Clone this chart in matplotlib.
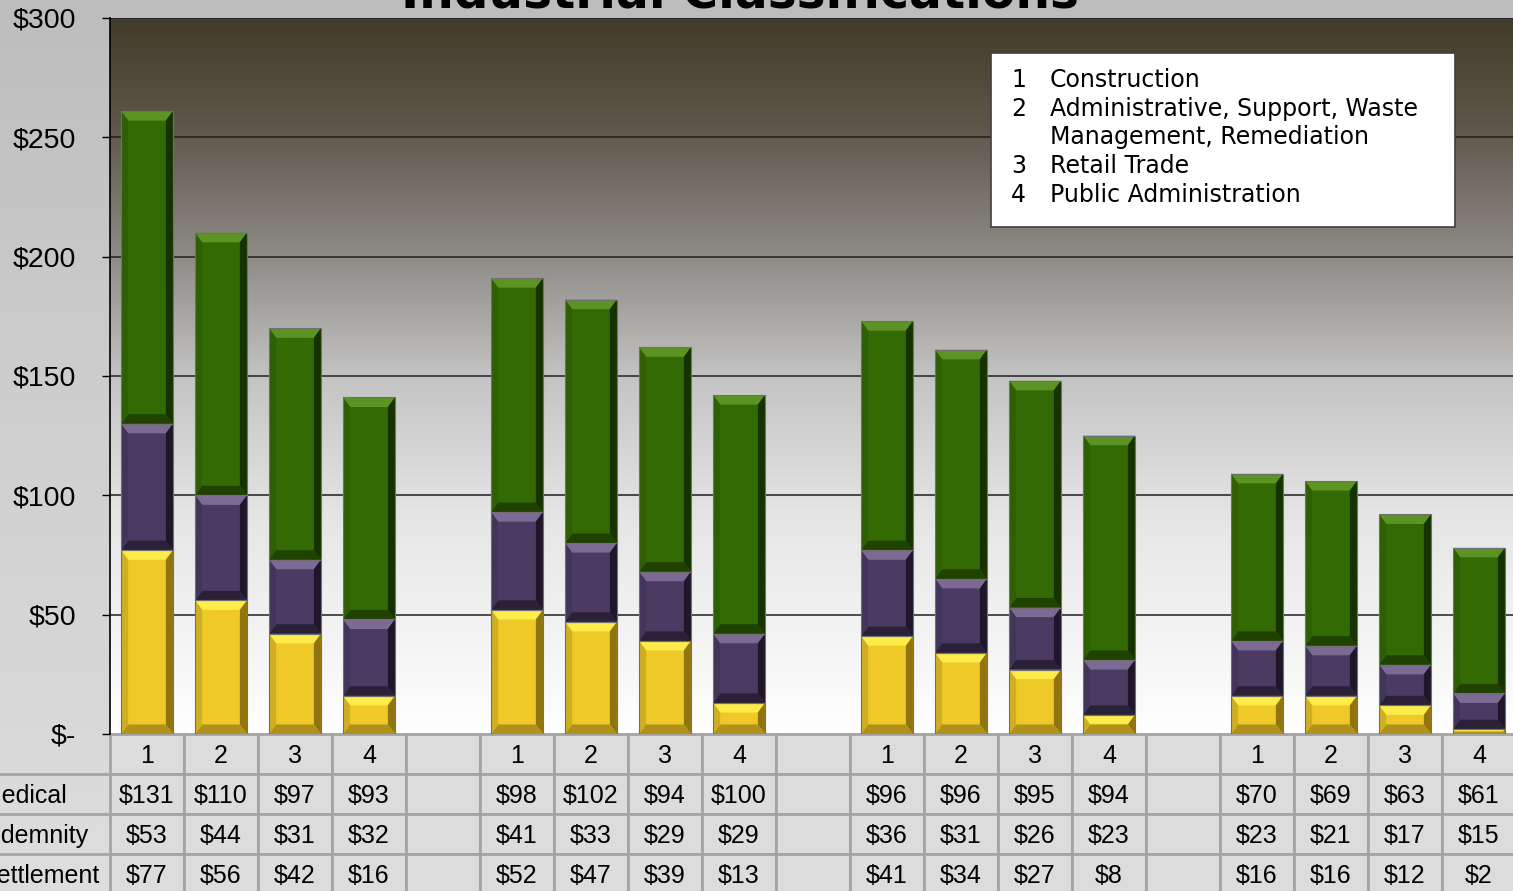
import numpy as np
import matplotlib
matplotlib.use('Agg')
import matplotlib.pyplot as plt
from matplotlib.patches import Rectangle, Polygon
from matplotlib.transforms import blended_transform_factory
from matplotlib.colors import LinearSegmentedColormap

# data
title = 'Industrial Classifications'
codes = ['1', '2', '3', '4']
industries = ['Construction',
              'Administrative, Support, Waste\nManagement, Remediation',
              'Retail Trade',
              'Public Administration']
row_names = ['Medical', 'Indemnity', 'Settlement']
medical = [131, 110, 97, 93, 98, 102, 94, 100, 96, 96, 95, 94, 70, 69, 63, 61]
indemnity = [53, 44, 31, 32, 41, 33, 29, 29, 36, 31, 26, 23, 23, 21, 17, 15]
settlement = [77, 56, 42, 16, 52, 47, 39, 13, 41, 34, 27, 8, 16, 16, 12, 2]
n_groups = 4
y_ticks = [0, 50, 100, 150, 200, 250, 300]

W, H = 1513, 891
def fx(px):
    return px / W
def fy(py):
    return 1 - py / H

fig = plt.figure(figsize=(W / 100, H / 100), dpi=100)

# outer background
bg = fig.add_axes([0, 0, 1, 1], zorder=-10)
bg_cmap = LinearSegmentedColormap.from_list('bg', ['#bdbdbd', '#d0d0d0', '#dedede'])
bg.imshow(np.linspace(0, 1, 256).reshape(-1, 1), aspect='auto', cmap=bg_cmap,
          extent=[0, 1, 0, 1])
bg.axis('off')

ax = fig.add_axes([fx(110), fy(734), fx(1516) - fx(110), fy(18) - fy(734)])
ax.set_xlim(-0.5, n_groups * 5 - 1 - 0.5)
ax.set_ylim(0, 300)

# plot area gradient
plot_cmap = LinearSegmentedColormap.from_list(
    'plot', [(0.0, '#433b29'), (0.15, '#5d574b'), (0.33, '#8e8b86'),
             (0.5, '#c3c3c3'), (0.7, '#e6e6e6'), (1.0, '#ffffff')])
ax.imshow(np.linspace(0, 1, 256).reshape(-1, 1), aspect='auto', cmap=plot_cmap,
          extent=[-0.5, n_groups * 5 - 1.5, 0, 300], zorder=0)

x = np.array([g * 5 + i for g in range(n_groups) for i in range(4)])
med = np.array(medical)
ind = np.array(indemnity)
sett = np.array(settlement)

styles = [
    # main, top, right, bottom, left
    ('#efc928', '#fdec4a', '#8f7410', '#b0921a', '#cfae22'),
    ('#4b3b62', '#7c6a94', '#1f1629', '#2a2038', '#42355a'),
    ('#336a03', '#5b9422', '#163200', '#1f4200', '#2e6002'),
]

def bevel(bars, st):
    for p in bars:
        x0, y0 = p.get_x(), p.get_y()
        w, h = p.get_width(), p.get_height()
        x1, y1 = x0 + w, y0 + h
        by = min(4.0, h / 2)
        bx = by * 0.095 / 4.0
        polys = [
            ([(x0, y1), (x1, y1), (x1 - bx, y1 - by), (x0 + bx, y1 - by)], st[1]),
            ([(x1, y1), (x1, y0), (x1 - bx, y0 + by), (x1 - bx, y1 - by)], st[2]),
            ([(x0, y0), (x1, y0), (x1 - bx, y0 + by), (x0 + bx, y0 + by)], st[3]),
            ([(x0, y0), (x0, y1), (x0 + bx, y1 - by), (x0 + bx, y0 + by)], st[4]),
        ]
        for pts, c in polys:
            ax.add_patch(Polygon(pts, closed=True, facecolor=c, edgecolor='none', zorder=3))
        ax.add_patch(Rectangle((x0, y0), w, h, facecolor='none',
                               edgecolor='#6f6f6f', lw=0.8, zorder=4))

b1 = ax.bar(x, sett, width=0.7, color=styles[0][0], zorder=2)
b2 = ax.bar(x, ind, bottom=sett, width=0.7, color=styles[1][0], zorder=2)
b3 = ax.bar(x, med, bottom=sett + ind, width=0.7, color=styles[2][0], zorder=2)
bevel(b1, styles[0])
bevel(b2, styles[1])
bevel(b3, styles[2])

# grid and axes
for yv in y_ticks[1:]:
    ax.axhline(yv, color='#1e1e1e', lw=1.1, zorder=1)
ax.set_yticks(y_ticks)
ax.set_yticklabels(['$-' if v == 0 else '$%d' % v for v in y_ticks],
                   fontsize=20.5, family='Liberation Sans')
ax.tick_params(axis='y', length=6, width=1, pad=18.5, color='black')
ax.set_xticks([])
for s in ['top', 'right', 'bottom']:
    ax.spines[s].set_visible(False)
ax.spines['left'].set_color('black')
ax.spines['left'].set_linewidth(1.2)

# data table below the axes
trans = blended_transform_factory(ax.transData, ax.transAxes)
row_h = 40 / 716
header = []
for g in range(n_groups):
    header += codes + ['']
header = header[:n_groups * 5 - 1]
rows = [med, ind, sett]
n_cols = len(header)
tbl_col = '#a4a4a4'
for r in range(4):
    ytop = -r * row_h
    for c in range(n_cols):
        ax.add_patch(Rectangle((c - 0.5, ytop - row_h), 1, row_h, transform=trans,
                               facecolor='#dcdcdc', edgecolor=tbl_col, lw=2,
                               clip_on=False, zorder=1))
    for c in range(n_cols):
        if r == 0:
            txt = header[c]
        else:
            slot = c % 5
            if slot == 4:
                txt = ''
            else:
                idx = (c // 5) * 4 + slot
                txt = '$%d' % rows[r - 1][idx]
        ax.text(c, ytop - row_h / 2 - 2 / 716, txt, transform=trans, ha='center',
                va='center', fontsize=18, family='Liberation Sans', clip_on=False, zorder=5)
# row label lines and names (left part is cut off by the figure edge, as in the source)
for r in range(1, 5):
    fig.add_artist(plt.Line2D([0, fx(110)], [fy(734 + 40 * r)] * 2, color=tbl_col, lw=2))
for r, name in enumerate(row_names):
    fig.text(fx(-19), fy(734 + 40 * (r + 1) + 22), name, ha='left', va='center',
             fontsize=18, family='Liberation Sans')

# title
fig.text(fx(740), fy(8), title, ha='center', va='baseline', fontsize=35,
         fontweight='bold', family='DejaVu Sans')

# industry key box
fig.add_artist(Rectangle((fx(991), fy(227)), fx(1455) - fx(991), fy(53) - fy(227),
                         transform=fig.transFigure, facecolor='white',
                         edgecolor='#404040', lw=1.2))
line = 0
for code, name in zip(codes, industries):
    fig.text(fx(1011), fy(80 + line * 28.7), code, ha='left', va='center',
             fontsize=17, family='DejaVu Sans')
    for part in name.split('\n'):
        fig.text(fx(1050), fy(80 + line * 28.7), part, ha='left', va='center',
                 fontsize=17, family='DejaVu Sans')
        line += 1

fig.savefig('out.png', dpi=100)
